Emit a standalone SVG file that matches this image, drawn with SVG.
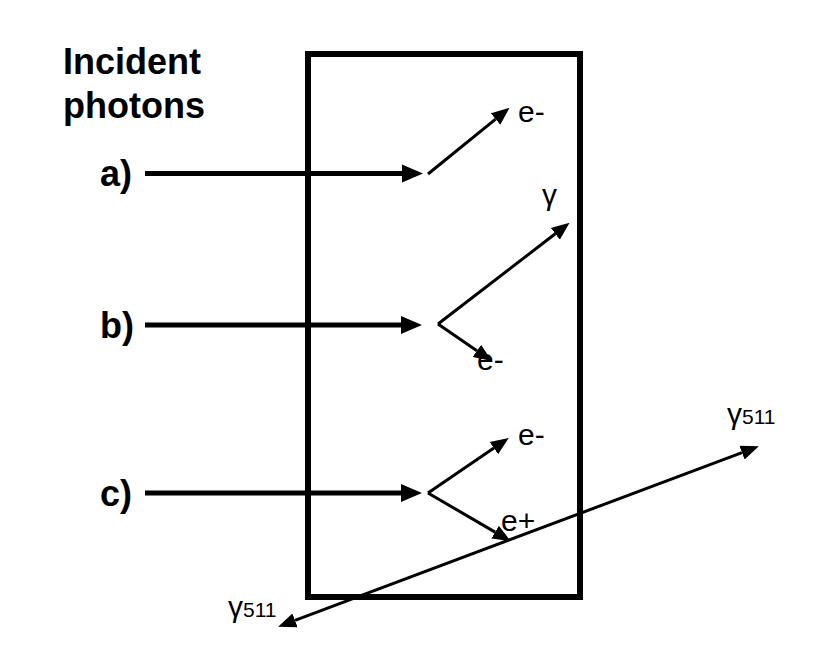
<svg xmlns="http://www.w3.org/2000/svg" width="832" height="662" viewBox="0 0 832 662">
<style>
.lbl{font-family:"Liberation Sans",Arial,sans-serif;fill:#000}
.title{font-size:36px;font-weight:bold}
.part{font-size:30px}
.sub{font-size:21px}
.inc{stroke:#000;stroke-width:5;fill:none}
.out{stroke:#000;stroke-width:3;fill:none}
</style>
<defs>
<marker id="headL" markerUnits="userSpaceOnUse" markerWidth="22" markerHeight="20" refX="0" refY="9" orient="auto" viewBox="0 0 22 18">
<path d="M0,0 L21,9 L0,18 Z" fill="#000"/>
</marker>
<marker id="headS" markerUnits="userSpaceOnUse" markerWidth="18" markerHeight="16" refX="0" refY="7" orient="auto-start-reverse" viewBox="0 0 17 14">
<path d="M0,0 L17,7 L0,14 Z" fill="#000"/>
</marker>
</defs>
<rect width="832" height="662" fill="#fff"/>
<g id="detector">
<rect x="308" y="54" width="272" height="543" fill="none" stroke="#000" stroke-width="6"/>
</g>
<g id="labels">
<text class="lbl title" x="63" y="74">Incident</text>
<text class="lbl title" x="63" y="118">photons</text>
<text class="lbl title" x="100" y="186">a)</text>
<text class="lbl title" x="100" y="338">b)</text>
<text class="lbl title" x="100" y="506">c)</text>
</g>
<g id="connectors">
<line class="inc" x1="145" y1="173.5" x2="402" y2="173.5" marker-end="url(#headL)"/>
<line class="inc" x1="145" y1="325" x2="401" y2="325" marker-end="url(#headL)"/>
<line class="inc" x1="145" y1="493" x2="401" y2="493" marker-end="url(#headL)"/>
<line class="out" x1="428" y1="174" x2="495.6" y2="119.1" marker-end="url(#headS)"/>
<line class="out" x1="438" y1="324" x2="555.3" y2="233.8" marker-end="url(#headS)"/>
<line class="out" x1="438" y1="324" x2="476.9" y2="350.8" marker-end="url(#headS)"/>
<line class="out" x1="428" y1="493" x2="493.9" y2="448.1" marker-end="url(#headS)"/>
<line class="out" x1="428" y1="493" x2="495.1" y2="532.1" marker-end="url(#headS)"/>
<line class="out" x1="295" y1="620.4" x2="742" y2="452.6" marker-start="url(#headS)" marker-end="url(#headS)"/>
</g>
<g id="particle-labels">
<text class="lbl part" x="518" y="122">e-</text>
<text class="lbl part" x="542" y="205">γ</text>
<text class="lbl part" x="477" y="370">e-</text>
<text class="lbl part" x="518" y="445">e-</text>
<text class="lbl part" x="501" y="531">e+</text>
<text class="lbl part" x="727" y="424">γ<tspan class="sub">511</tspan></text>
<text class="lbl part" x="228" y="617">γ<tspan class="sub">511</tspan></text>
</g>
</svg>
